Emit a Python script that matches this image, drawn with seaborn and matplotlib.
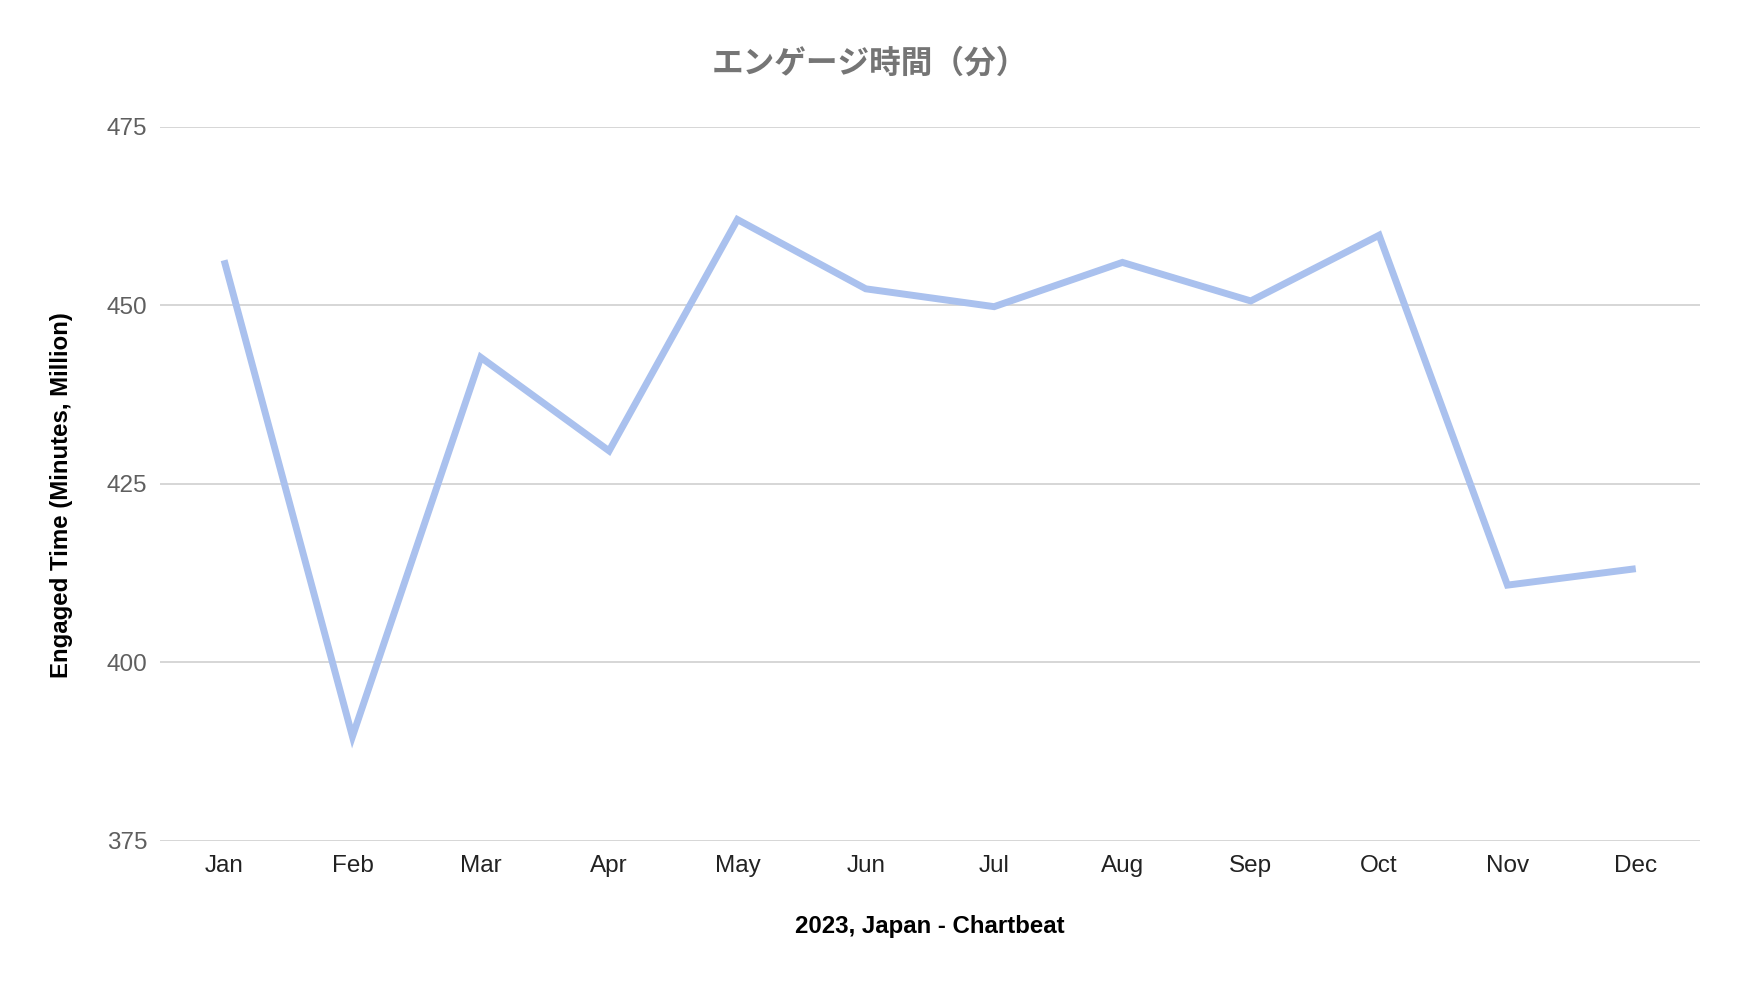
import numpy as np
import pandas as pd
import matplotlib
matplotlib.use('Agg')
import matplotlib.pyplot as plt
import seaborn as sns

# data
months = ['Jan', 'Feb', 'Mar', 'Apr', 'May', 'Jun',
          'Jul', 'Aug', 'Sep', 'Oct', 'Nov', 'Dec']
engaged_minutes = [456.3, 389.6, 442.7, 429.6, 462.0, 452.3,
                   449.8, 456.0, 450.6, 459.8, 410.8, 413.1]
y_ticks = [375, 400, 425, 450, 475]

title = 'エンゲージ時間（分）'
x_title = '2023, Japan - Chartbeat'
y_title = 'Engaged Time (Minutes, Million)'

sns.set_style('white')
plt.rcParams['font.family'] = ['Liberation Sans', 'Noto Sans CJK JP', 'DejaVu Sans']

df = pd.DataFrame({'month': months, 'minutes': engaged_minutes})

fig = plt.figure(figsize=(17.48, 9.84), dpi=100)
ax = fig.add_axes([0.0915, 0.1456, 0.881, 0.7256])

sns.lineplot(data=df, x='month', y='minutes', sort=False, ax=ax,
             color='#aac1ee', linewidth=5.0,
             solid_joinstyle='miter', solid_capstyle='butt')

ax.set_ylim(y_ticks[0], y_ticks[-1])
ax.set_xlim(-0.5, len(months) - 0.5)
ax.set_yticks(y_ticks)
ax.set_yticklabels([str(t) for t in y_ticks])
ax.grid(axis='y', color='#d6d6d6', linewidth=1.4)
ax.grid(axis='x', visible=False)
ax.set_axisbelow(True)
for s in ax.spines.values():
    s.set_visible(False)

ax.tick_params(axis='y', length=0, pad=9, labelsize=17.5, labelcolor='#5f5f5f')
ax.tick_params(axis='x', length=0, pad=10, labelsize=17.5, labelcolor='#222222')

ax.set_xlabel(x_title, fontsize=17.3, fontweight='bold', color='black')
ax.set_ylabel(y_title, fontsize=17.3, fontweight='bold', color='black')
ax.xaxis.set_label_coords(0.5, -0.104)
ax.yaxis.set_label_coords(-0.0562, 0.484)

fig.text(0.4977, 0.935, title, ha='center', va='center', fontsize=22.8,
         fontweight='bold', color='#757575',
         family=['Noto Sans CJK JP', 'DejaVu Sans'])

fig.savefig('out.png', dpi=100, facecolor='white')
plt.close(fig)
